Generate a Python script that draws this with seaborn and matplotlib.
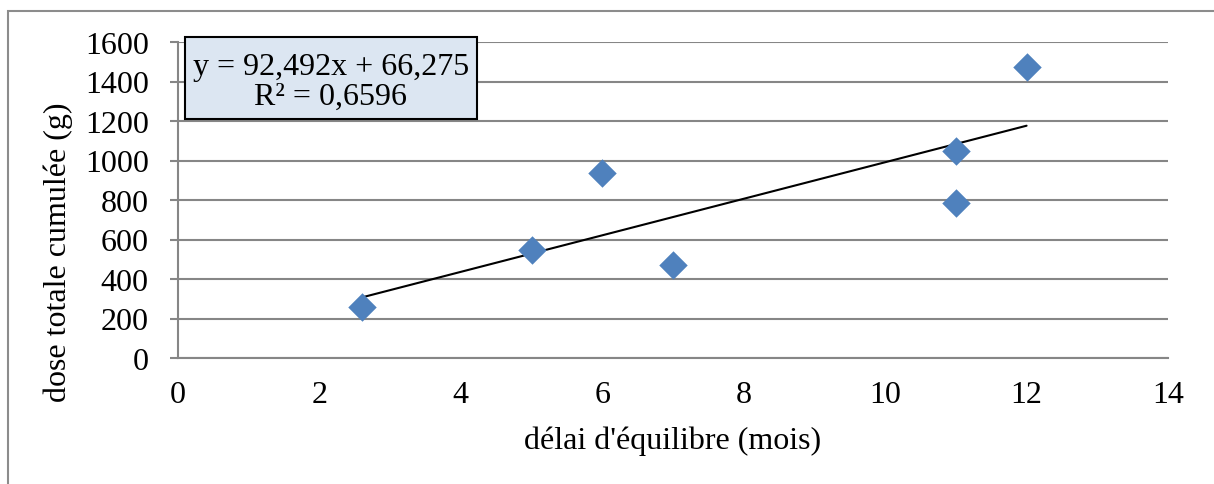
import matplotlib
matplotlib.use("Agg")
import matplotlib.pyplot as plt
from matplotlib.patches import Rectangle
import numpy as np
import pandas as pd
import seaborn as sns

# Délai d'équilibre (mois) et dose totale cumulée (g)
delai = [2.6, 5, 6, 7, 11, 11, 12]
dose = [258, 548, 936, 470, 785, 1047, 1474]

# Coefficients de la droite de tendance
pente = 92.492
ordonnee = 66.275
r2 = 0.6596

x_ticks = [0, 2, 4, 6, 8, 10, 12, 14]
y_ticks = [0, 200, 400, 600, 800, 1000, 1200, 1400, 1600]

sns.set_theme(style="white")
plt.rcParams["font.family"] = ["Liberation Serif", "DejaVu Serif"]

FS = 23
W, H = 1214, 485

fig = plt.figure(figsize=(W / 100, H / 100), dpi=100)
ax = fig.add_axes([178 / W, 1 - 359 / H, 990 / W, 316 / H])

grid_col = "#868686"
df = pd.DataFrame({"delai": delai, "dose": dose})

# droite de tendance
xs = np.array([min(delai), max(delai)])
tend = pd.DataFrame({"x": xs, "y": pente * xs + ordonnee})
sns.lineplot(data=tend, x="x", y="y", ax=ax, color="black", linewidth=1.5, zorder=3)

sns.scatterplot(data=df, x="delai", y="dose", ax=ax, marker="D", s=210,
                color="#4f81bd", edgecolor="#4f81bd", linewidth=0, zorder=4)

ax.set_xlim(0, 14)
ax.set_ylim(0, 1600)
ax.set_xticks(x_ticks)
ax.set_yticks(y_ticks)
ax.set_xticklabels([str(v) for v in x_ticks], fontsize=FS)
ax.set_yticklabels([str(v) for v in y_ticks], fontsize=FS)
ax.yaxis.grid(True, color=grid_col, linewidth=1.5)
ax.xaxis.grid(False)
ax.set_axisbelow(True)

for side in ("top", "right"):
    ax.spines[side].set_visible(False)
for side in ("left", "bottom"):
    ax.spines[side].set_color(grid_col)
    ax.spines[side].set_linewidth(1.5)

ax.tick_params(axis="y", which="major", left=True, length=6, width=1.5,
               color=grid_col, pad=15, labelcolor="black")
ax.tick_params(axis="x", which="major", bottom=False, pad=10, labelcolor="black")

ax.set_xlabel("délai d'équilibre (mois)", fontsize=FS, color="black", labelpad=12)
ax.set_ylabel("dose totale cumulée (g)", fontsize=FS, color="black")
ax.yaxis.set_label_coords(-0.106, 0.339)

# étiquette de la droite dans son cadre
fig.patches.append(Rectangle((185 / W, 1 - 120 / H), 292 / W, 82 / H,
                             transform=fig.transFigure, facecolor="#dce6f2",
                             edgecolor="black", linewidth=1.5, zorder=5))
eq = f"y = {pente:.3f}x + {ordonnee:.3f}".replace(".", ",")
r2_txt = f"R² = {r2:.4f}".replace(".", ",")
fig.text(331 / W, 1 - 82 / H, eq + "\n" + r2_txt, ha="center", va="center",
         fontsize=FS, color="black", linespacing=1.03, zorder=6)

# cadre extérieur
fig.patches.append(Rectangle((8 / W, -0.1), 1.2, 1 - 12 / H + 0.1,
                             transform=fig.transFigure, fill=False,
                             edgecolor="#8c8c8c", linewidth=1.5))

fig.savefig("out.png", dpi=100)
